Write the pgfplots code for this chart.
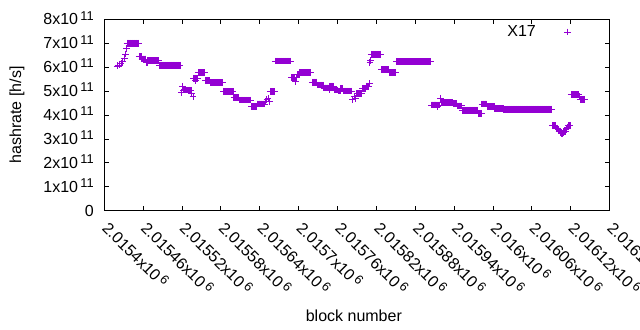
\documentclass[border=0pt]{standalone}
\usepackage{fontspec}
\setmainfont{Liberation Sans}
\usepackage{pgfplots}
\pgfplotsset{compat=1.18}
\definecolor{hp}{HTML}{9400D3}
\newcommand{\ff}{\fontsize{16bp}{19bp}\selectfont}
\newcommand{\ex}[1]{\hspace{0.15em}\raisebox{4.6bp}{\fontsize{12.8bp}{13bp}\selectfont #1}}
\begin{document}
\begin{tikzpicture}
\begin{axis}[
  at={(104.3bp,119.3bp)}, anchor=south west,
  scale only axis, width=505.2bp, height=191.4bp,
  xmin=2015400, xmax=2016180, ymin=0, ymax=8,
  scaled x ticks=false, scaled y ticks=false,
  xtick={2015400,2015460,2015520,2015580,2015640,2015700,2015760,2015820,2015880,2015940,2016000,2016060,2016120,2016180},
  xticklabels={2.0154x10\ex{6},2.01546x10\ex{6},2.01552x10\ex{6},2.01558x10\ex{6},2.01564x10\ex{6},2.0157x10\ex{6},2.01576x10\ex{6},2.01582x10\ex{6},2.01588x10\ex{6},2.01594x10\ex{6},2.016x10\ex{6},2.01606x10\ex{6},2.01612x10\ex{6},2.01618x10\ex{6}},
  ytick={0,1,2,3,4,5,6,7,8},
  yticklabels={0,1x10\ex{11},2x10\ex{11},3x10\ex{11},4x10\ex{11},5x10\ex{11},6x10\ex{11},7x10\ex{11},8x10\ex{11}},
  tick align=inside, major tick length=5bp,
  axis line style={line width=1bp},
  every tick/.style={black, line width=0.8bp},
  tick label style={font=\ff},
  label style={font=\ff},
  xticklabel style={yshift=-11.5bp, xshift=-0.8bp, rotate=-45, anchor=west},
  yticklabel style={anchor=base east, xshift=-7bp, yshift=-5.4bp},
  xlabel={block number}, ylabel={hashrate [h/s]},
  xlabel style={at={(axis description cs:0.494,-0.5815)}, anchor=base},
  ylabel style={at={(axis description cs:-0.1728,0.5)}, anchor=center},
  legend style={draw=none, fill=none, at={(0.9298,0.9337)}, anchor=east, legend cell align=right, font=\ff},
  legend plot pos=right,
  legend image code/.code={\path[draw=none] (0bp,0bp) -- (33bp,0bp); \draw[#1, only marks] plot coordinates {(29.6bp,0bp)};},
]
\addplot[only marks, mark=+, color=hp, mark size=3.3bp, mark options={line width=0.9bp}] coordinates {
(2015420,6.05)(2015421,6.07)(2015423,6.09)(2015426,6.16)(2015428,6.23)(2015431,6.37)(2015433,6.55)(2015434,6.79)
(2015435,7.00)(2015436,7.00)(2015437,7.00)(2015438,7.00)(2015439,7.00)(2015440,7.00)(2015441,7.00)(2015442,7.00)(2015443,7.00)(2015444,7.00)(2015445,7.00)(2015446,7.00)(2015447,7.00)(2015448,7.00)(2015449,7.00)(2015450,7.00)(2015451,7.00)(2015452,7.00)(2015453,7.00)
(2015454,6.44)(2015455,6.44)(2015456,6.44)(2015457,6.44)
(2015458,6.34)(2015459,6.34)(2015460,6.34)(2015461,6.34)(2015462,6.34)(2015463,6.34)(2015464,6.34)
(2015465,6.18)(2015466,6.18)
(2015467,6.28)(2015468,6.28)(2015469,6.28)(2015470,6.28)(2015471,6.28)(2015472,6.28)(2015473,6.28)(2015474,6.28)(2015475,6.28)(2015476,6.28)(2015477,6.28)(2015478,6.28)(2015479,6.28)(2015480,6.28)(2015481,6.28)(2015482,6.28)(2015483,6.28)(2015484,6.28)
(2015485,6.08)(2015486,6.08)(2015487,6.08)(2015488,6.08)(2015489,6.08)(2015490,6.08)(2015491,6.08)(2015492,6.08)(2015493,6.08)(2015494,6.08)(2015495,6.08)(2015496,6.08)(2015497,6.08)(2015498,6.08)(2015499,6.08)(2015500,6.08)(2015501,6.08)(2015502,6.08)(2015503,6.08)(2015504,6.08)(2015505,6.08)(2015506,6.08)(2015507,6.08)(2015508,6.08)(2015509,6.08)(2015510,6.08)(2015511,6.08)(2015512,6.08)(2015513,6.08)(2015514,6.08)(2015515,6.08)(2015516,6.08)(2015517,6.08)
(2015519,4.95)(2015521,5.20)
(2015522,5.04)(2015523,5.04)(2015524,5.04)(2015525,5.04)(2015526,5.04)(2015527,5.04)(2015528,5.04)(2015529,5.04)(2015530,5.04)(2015531,5.04)(2015532,5.04)(2015533,5.04)(2015534,5.04)
(2015535,4.90)(2015537,4.78)
(2015538,5.52)(2015539,5.52)(2015540,5.52)(2015541,5.45)(2015542,5.52)(2015543,5.52)(2015544,5.52)
(2015545,5.78)(2015546,5.78)(2015547,5.78)(2015548,5.78)(2015549,5.78)(2015550,5.78)(2015551,5.78)(2015552,5.78)(2015553,5.78)(2015554,5.78)(2015555,5.78)
(2015556,5.44)(2015557,5.44)(2015558,5.44)(2015559,5.44)(2015560,5.44)(2015561,5.44)(2015562,5.44)(2015563,5.44)
(2015564,5.36)(2015565,5.36)(2015566,5.36)(2015567,5.36)(2015568,5.36)(2015569,5.36)(2015570,5.36)(2015571,5.36)(2015572,5.36)(2015573,5.36)(2015574,5.36)(2015575,5.36)(2015576,5.36)(2015577,5.36)(2015578,5.36)(2015579,5.36)(2015580,5.36)(2015581,5.36)(2015582,5.36)(2015583,5.36)
(2015584,4.98)(2015585,4.98)(2015586,4.98)(2015587,4.98)(2015588,4.98)(2015589,4.98)(2015590,4.98)(2015591,4.98)(2015592,4.98)(2015593,4.98)(2015594,4.98)(2015595,4.98)(2015596,4.98)(2015597,4.98)(2015598,4.98)(2015599,4.98)
(2015600,4.73)(2015601,4.73)(2015602,4.73)(2015603,4.73)(2015604,4.73)(2015605,4.73)(2015606,4.73)(2015607,4.73)
(2015608,4.62)(2015609,4.62)(2015610,4.62)(2015611,4.62)(2015612,4.62)(2015613,4.62)(2015614,4.62)(2015615,4.62)(2015616,4.62)(2015617,4.62)(2015618,4.62)(2015619,4.62)(2015620,4.62)(2015621,4.62)(2015622,4.62)(2015623,4.62)(2015624,4.62)(2015625,4.62)(2015626,4.62)
(2015627,4.36)(2015628,4.36)(2015629,4.36)(2015630,4.36)(2015631,4.36)(2015632,4.36)(2015633,4.36)(2015634,4.36)(2015635,4.36)
(2015636,4.46)(2015637,4.46)(2015638,4.46)(2015639,4.46)(2015640,4.46)(2015641,4.46)(2015642,4.46)(2015643,4.46)(2015644,4.46)(2015645,4.46)(2015646,4.46)(2015647,4.46)
(2015649,4.55)(2015651,4.65)(2015653,4.70)(2015655,4.56)
(2015656,4.98)(2015657,4.98)(2015658,4.98)(2015659,4.98)(2015660,4.98)(2015661,4.98)(2015662,4.98)(2015663,4.98)
(2015664,6.25)(2015665,6.25)(2015666,6.25)(2015667,6.25)(2015668,6.25)(2015669,6.25)(2015670,6.25)(2015671,6.25)(2015672,6.25)(2015673,6.25)(2015674,6.25)(2015675,6.25)(2015676,6.25)(2015677,6.25)(2015678,6.25)(2015679,6.25)(2015680,6.25)(2015681,6.25)(2015682,6.25)(2015683,6.25)(2015684,6.25)(2015685,6.25)(2015686,6.25)(2015687,6.25)(2015688,6.25)
(2015689,5.57)(2015690,5.57)(2015691,5.57)(2015692,5.57)(2015693,5.57)(2015694,5.57)(2015695,5.40)(2015696,5.57)(2015697,5.57)
(2015698,5.70)(2015699,5.70)(2015700,5.70)(2015701,5.70)
(2015702,5.78)(2015703,5.78)(2015704,5.78)(2015705,5.78)(2015706,5.78)(2015707,5.78)(2015708,5.78)(2015709,5.78)(2015710,5.78)(2015711,5.78)(2015712,5.78)(2015713,5.78)(2015714,5.78)(2015715,5.78)(2015716,5.78)(2015717,5.78)(2015718,5.78)(2015719,5.78)
(2015721,5.37)(2015722,5.37)(2015723,5.37)(2015724,5.37)(2015725,5.37)(2015726,5.37)(2015727,5.37)(2015728,5.37)
(2015729,5.25)(2015730,5.25)(2015731,5.25)(2015732,5.25)(2015733,5.25)(2015734,5.25)(2015735,5.25)(2015736,5.25)(2015737,5.25)(2015738,5.25)
(2015739,5.13)(2015740,5.13)(2015741,5.13)(2015742,5.13)(2015743,5.13)(2015744,5.13)(2015745,5.13)(2015746,5.13)
(2015747,5.04)(2015748,5.20)(2015749,5.20)(2015750,5.20)(2015751,5.20)(2015752,5.20)(2015753,5.20)(2015754,5.20)
(2015755,5.04)(2015756,5.04)(2015757,5.04)(2015758,5.04)(2015759,5.04)(2015760,5.04)
(2015761,5.00)(2015762,5.00)(2015763,5.00)(2015764,5.00)(2015765,5.10)(2015766,5.10)(2015767,5.10)(2015768,5.10)
(2015769,5.00)(2015770,5.00)(2015771,5.00)(2015772,5.00)(2015773,5.00)(2015774,5.00)(2015775,5.00)(2015776,5.00)(2015777,5.00)(2015778,5.00)(2015779,5.00)(2015780,5.00)(2015781,5.00)(2015782,5.00)
(2015783,4.63)(2015786,4.76)(2015788,4.70)
(2015790,4.90)(2015791,4.90)(2015792,4.90)(2015793,4.90)(2015794,4.90)(2015795,4.90)(2015796,4.90)(2015797,4.90)
(2015798,5.10)(2015799,5.10)(2015800,5.10)(2015801,5.10)(2015802,5.10)(2015803,5.10)
(2015804,5.20)(2015805,5.20)(2015806,5.20)(2015807,5.20)(2015808,5.20)(2015809,5.32)
(2015810,6.20)(2015811,6.27)
(2015812,6.54)(2015813,6.54)(2015814,6.54)(2015815,6.54)(2015816,6.54)(2015817,6.54)(2015818,6.54)(2015819,6.54)(2015820,6.54)(2015821,6.54)(2015822,6.54)(2015823,6.54)(2015824,6.54)(2015825,6.54)(2015826,6.54)(2015827,6.54)
(2015828,5.90)(2015829,5.90)(2015830,5.90)(2015831,5.90)(2015832,5.90)(2015833,5.90)(2015834,5.90)(2015835,5.90)(2015836,5.90)(2015837,5.90)(2015838,5.90)(2015839,5.90)
(2015840,5.78)(2015841,5.78)(2015842,5.78)(2015843,5.78)(2015844,5.78)(2015845,5.78)(2015846,5.78)(2015847,5.78)(2015848,5.78)(2015849,5.78)(2015850,5.78)
(2015851,6.23)(2015852,6.23)(2015853,6.23)(2015854,6.23)(2015855,6.23)(2015856,6.23)(2015857,6.23)(2015858,6.23)(2015859,6.23)(2015860,6.23)(2015861,6.23)(2015862,6.23)(2015863,6.23)(2015864,6.23)(2015865,6.23)(2015866,6.23)(2015867,6.23)(2015868,6.23)(2015869,6.23)(2015870,6.23)(2015871,6.23)(2015872,6.23)(2015873,6.23)(2015874,6.23)(2015875,6.23)(2015876,6.23)(2015877,6.23)(2015878,6.23)(2015879,6.23)(2015880,6.23)(2015881,6.23)(2015882,6.23)(2015883,6.23)(2015884,6.23)(2015885,6.23)(2015886,6.23)(2015887,6.23)(2015888,6.23)(2015889,6.23)(2015890,6.23)(2015891,6.23)(2015892,6.23)(2015893,6.23)(2015894,6.23)(2015895,6.23)(2015896,6.23)(2015897,6.23)(2015898,6.23)(2015899,6.23)(2015900,6.23)(2015901,6.23)(2015902,6.23)(2015903,6.23)(2015904,6.23)
(2015905,4.42)(2015906,4.42)(2015907,4.42)(2015908,4.42)(2015909,4.42)(2015910,4.42)(2015911,4.42)(2015912,4.42)(2015913,4.42)(2015914,4.35)(2015915,4.42)(2015916,4.42)(2015917,4.42)(2015918,4.42)
(2015919,4.70)
(2015921,4.53)(2015922,4.53)(2015923,4.53)(2015924,4.53)(2015925,4.53)(2015926,4.53)(2015927,4.53)(2015928,4.53)(2015929,4.53)(2015930,4.53)(2015931,4.53)(2015932,4.53)(2015933,4.53)(2015934,4.53)(2015935,4.53)(2015936,4.53)(2015937,4.53)(2015938,4.53)
(2015939,4.47)(2015940,4.47)(2015941,4.47)(2015942,4.47)(2015943,4.47)(2015944,4.47)
(2015945,4.38)(2015946,4.38)(2015947,4.38)(2015948,4.38)(2015949,4.38)(2015950,4.38)(2015951,4.38)(2015952,4.38)
(2015953,4.20)(2015954,4.20)(2015955,4.20)(2015956,4.20)(2015957,4.20)(2015958,4.20)(2015959,4.20)(2015960,4.20)(2015961,4.20)(2015962,4.20)(2015963,4.20)(2015964,4.20)(2015965,4.20)(2015966,4.20)(2015967,4.20)(2015968,4.20)(2015969,4.20)(2015970,4.20)(2015971,4.20)(2015972,4.20)(2015973,4.20)(2015974,4.20)(2015975,4.20)(2015976,4.20)
(2015977,4.07)(2015978,4.07)(2015979,4.07)(2015980,4.07)(2015981,4.07)(2015982,4.07)
(2015983,4.46)(2015984,4.46)(2015985,4.46)(2015986,4.46)(2015987,4.46)(2015988,4.46)(2015989,4.46)(2015990,4.46)
(2015991,4.36)(2015992,4.36)(2015993,4.36)(2015994,4.36)(2015995,4.36)(2015996,4.36)(2015997,4.36)(2015998,4.36)(2015999,4.36)(2016000,4.36)(2016001,4.36)(2016002,4.36)
(2016003,4.28)(2016004,4.28)(2016005,4.28)(2016006,4.28)(2016007,4.28)(2016008,4.28)(2016009,4.28)(2016010,4.28)(2016011,4.28)(2016012,4.28)(2016013,4.28)(2016014,4.28)(2016015,4.28)(2016016,4.28)
(2016017,4.24)(2016018,4.24)(2016019,4.24)(2016020,4.24)(2016021,4.24)(2016022,4.24)(2016023,4.24)(2016024,4.24)(2016025,4.24)(2016026,4.24)(2016027,4.24)(2016028,4.24)(2016029,4.24)(2016030,4.24)(2016031,4.24)(2016032,4.24)(2016033,4.24)(2016034,4.24)(2016035,4.24)(2016036,4.24)(2016037,4.24)(2016038,4.24)(2016039,4.24)(2016040,4.24)(2016041,4.24)(2016042,4.24)(2016043,4.24)(2016044,4.24)(2016045,4.24)(2016046,4.24)(2016047,4.24)(2016048,4.24)(2016049,4.24)(2016050,4.24)(2016051,4.24)(2016052,4.24)(2016053,4.24)(2016054,4.24)(2016055,4.24)(2016056,4.24)(2016057,4.24)(2016058,4.24)(2016059,4.24)(2016060,4.24)(2016061,4.24)(2016062,4.24)(2016063,4.24)(2016064,4.24)(2016065,4.24)(2016066,4.24)(2016067,4.24)(2016068,4.24)(2016069,4.24)(2016070,4.24)(2016071,4.24)(2016072,4.24)(2016073,4.24)(2016074,4.24)(2016075,4.24)(2016076,4.24)(2016077,4.24)(2016078,4.24)(2016079,4.24)(2016080,4.24)(2016081,4.24)(2016082,4.24)(2016083,4.24)(2016084,4.24)(2016085,4.24)(2016086,4.24)(2016087,4.24)(2016088,4.24)(2016089,4.24)(2016090,4.24)(2016091,4.24)
(2016092,3.55)(2016093,3.55)(2016094,3.55)(2016095,3.55)(2016096,3.55)(2016097,3.50)(2016098,3.45)(2016099,3.45)(2016100,3.45)(2016101,3.40)(2016102,3.33)(2016103,3.33)(2016104,3.33)(2016105,3.28)(2016106,3.22)(2016107,3.22)(2016108,3.22)(2016109,3.25)(2016110,3.30)(2016111,3.30)(2016112,3.30)(2016113,3.38)(2016114,3.45)(2016115,3.50)(2016116,3.55)(2016117,3.55)(2016118,3.55)(2016119,3.55)
(2016121,4.86)(2016122,4.86)(2016123,4.86)(2016124,4.86)(2016125,4.86)(2016126,4.86)(2016127,4.86)(2016128,4.86)(2016129,4.86)(2016130,4.86)(2016131,4.86)(2016132,4.86)
(2016133,4.78)(2016134,4.78)(2016135,4.65)(2016136,4.65)(2016137,4.65)(2016138,4.65)(2016139,4.65)(2016140,4.65)(2016141,4.65)(2016142,4.65)
};
\addlegendentry{X17}
\end{axis}
\pgfresetboundingbox
\useasboundingbox (0,0) rectangle (640bp,330bp);
\end{tikzpicture}
\end{document}
